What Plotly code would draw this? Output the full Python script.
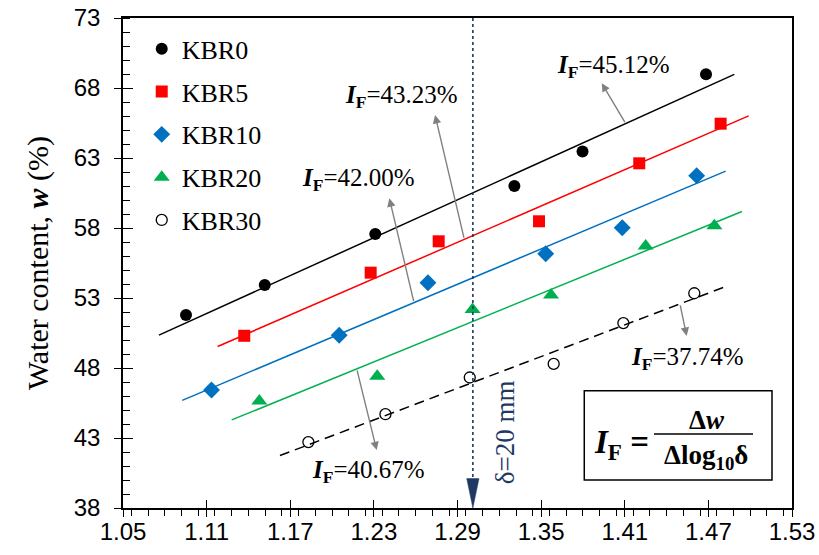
import numpy as np
import plotly.graph_objects as go

# ---- data -------------------------------------------------------------
series_names = ["KBR0", "KBR5", "KBR10", "KBR20", "KBR30"]

# x = log10(δ), y = water content w (%)
kbr0_x = [1.0952, 1.1517, 1.2310, 1.3308, 1.3797, 1.4683]
kbr0_w = [51.79, 53.93, 57.57, 61.00, 63.46, 68.98]
kbr5_x = [1.1370, 1.2277, 1.2765, 1.3485, 1.4204, 1.4788]
kbr5_w = [50.30, 54.81, 57.05, 58.48, 62.62, 65.45]
kbr10_x = [1.1135, 1.2051, 1.2688, 1.3533, 1.4082, 1.4616]
kbr10_w = [46.43, 50.34, 54.09, 56.16, 58.02, 61.74]
kbr20_x = [1.1478, 1.2324, 1.3008, 1.3571, 1.4250, 1.4743]
kbr20_w = [45.64, 47.41, 52.17, 53.21, 56.71, 58.16]
kbr30_x = [1.1830, 1.2383, 1.2988, 1.3590, 1.4090, 1.4599]
kbr30_w = [42.71, 44.70, 47.32, 48.29, 51.21, 53.34]

# linear fits: slope is the index I_F (%), plus intercept and x extent
fit_slope = [45.12, 43.23, 42.00, 40.67, 37.74]
fit_intercept = [1.81, 1.21, -0.196, -1.585, -2.13]
fit_x_start = [1.0758, 1.1179, 1.0925, 1.1280, 1.1626]
fit_x_end = [1.4886, 1.4989, 1.4824, 1.4941, 1.4807]

# I_F callouts: arrow starts on the fit line at tail_x, points to head
arrow_tail_x = [1.4107, 1.2949, 1.2588, 1.2177, 1.4496]
arrow_head_x = [1.3935, 1.2739, 1.2411, 1.2320, 1.4544]
arrow_head_w = [68.34, 66.07, 60.12, 42.14, 50.29]
label_x = [1.4016, 1.2495, 1.2193, 1.2258, 1.4547]
label_w = [69.57, 67.36, 61.43, 40.64, 48.71]

delta_mm = 20
x_ticks_range = [1.05, 1.53]
y_ticks_range = [38, 73]

# ---- styles -----------------------------------------------------------
xs = [kbr0_x, kbr5_x, kbr10_x, kbr20_x, kbr30_x]
ws = [kbr0_w, kbr5_w, kbr10_w, kbr20_w, kbr30_w]
colors = ["#000000", "#FF0000", "#0070C0", "#00B050", "#000000"]
symbols = ["circle", "square", "diamond", "triangle-up", "circle-open"]
sizes = [12, 12, 13, 14, 11]
dashes = ["solid", "solid", "solid", "solid", "10px,6px"]

SERIF = "Liberation Serif, serif"
SANS = "Liberation Sans Narrow, Liberation Sans"
NAVY = "#1F3864"
GREY = "#808080"

fig = go.Figure()

# fit lines
for i in range(5):
    lx = np.array([fit_x_start[i], fit_x_end[i]])
    ly = fit_slope[i] * lx + fit_intercept[i]
    fig.add_trace(go.Scatter(
        x=lx, y=ly, mode="lines", showlegend=False, hoverinfo="skip",
        line=dict(color=colors[i], width=1.5, dash=dashes[i]),
    ))

# measured points
for i in range(5):
    fig.add_trace(go.Scatter(
        x=xs[i], y=ws[i], mode="markers", name=series_names[i],
        legendgroup=series_names[i],
        marker=dict(symbol=symbols[i], size=sizes[i], color=colors[i],
                    line=dict(width=1.3 if i == 4 else 0, color=colors[i])),
    ))

# invisible trace so the overlay axes (inner half of major ticks) render
fig.add_trace(go.Scatter(x=[x_ticks_range[0]], y=[y_ticks_range[0]], xaxis="x2",
                         yaxis="y2", mode="markers", opacity=0,
                         showlegend=False, hoverinfo="skip"))

# I_F callouts
for i in range(5):
    tail_w = fit_slope[i] * arrow_tail_x[i] + fit_intercept[i]
    fig.add_annotation(
        x=arrow_head_x[i], y=arrow_head_w[i], ax=arrow_tail_x[i], ay=tail_w,
        xref="x", yref="y", axref="x", ayref="y", text="",
        showarrow=True, arrowhead=2, arrowsize=1.2, arrowwidth=1.4,
        arrowcolor=GREY, standoff=0, startstandoff=0,
    )
    fig.add_annotation(
        x=label_x[i], y=label_w[i], xref="x", yref="y", showarrow=False,
        xanchor="center", yanchor="middle",
        text="<b><i>I</i></b><sub><b>F</b></sub>=%.2f%%" % fit_slope[i],
        font=dict(family=SERIF, size=25, color="black"),
    )

# δ = 20 mm reference line with arrowhead
xd = float(np.log10(delta_mm))
fig.add_shape(type="line", xref="x", yref="y", x0=xd, x1=xd,
              y0=y_ticks_range[1], y1=y_ticks_range[0] + 2.0,
              line=dict(color=NAVY, width=1.6, dash="dot"))
half_w = 0.0044
fig.add_shape(type="path", xref="x", yref="y",
              path="M %f,%f L %f,%f L %f,%f Z" % (xd - half_w, y_ticks_range[0] + 2.1,
                                                   xd + half_w, y_ticks_range[0] + 2.1,
                                                   xd, y_ticks_range[0]),
              fillcolor=NAVY, line=dict(color=NAVY, width=0.5))
fig.add_annotation(x=xd, y=43.4, xref="x", yref="y", xshift=33, showarrow=False,
                   xanchor="center", yanchor="middle",
                   text="δ=%d mm" % delta_mm, textangle=-90,
                   font=dict(family=SERIF, size=27, color=NAVY))

# formula box
fig.add_shape(type="rect", xref="paper", yref="paper",
              x0=0.6895, x1=0.9701, y0=0.0571, y1=0.2394,
              line=dict(color="black", width=1.5), fillcolor="white", layer="above")
fig.add_shape(type="line", xref="paper", yref="paper",
              x0=0.7937, x1=0.9417, y0=0.1510, y1=0.1510,
              line=dict(color="black", width=1.5), layer="above")
fig.add_annotation(x=0.7444, y=0.1286, xref="paper", yref="paper", showarrow=False,
                   xanchor="center", yanchor="middle",
                   text="<b><i>I</i></b><sub><b>F</b></sub><b> =</b>",
                   font=dict(family=SERIF, size=33, color="black"))
fig.add_annotation(x=0.8729, y=0.1796, xref="paper", yref="paper", showarrow=False,
                   xanchor="center", yanchor="middle",
                   text="<b>Δ<i>w</i></b>",
                   font=dict(family=SERIF, size=27, color="black"))
fig.add_annotation(x=0.8714, y=0.1041, xref="paper", yref="paper", showarrow=False,
                   xanchor="center", yanchor="middle",
                   text="<b>Δlog<sub>10</sub>δ</b>",
                   font=dict(family=SERIF, size=27, color="black"))

tickfont = dict(family=SANS, size=24, color="black")
fig.update_layout(
    width=819, height=555,
    margin=dict(l=123, r=27, t=18, b=47, autoexpand=False),
    paper_bgcolor="white", plot_bgcolor="white",
    showlegend=True,
    legend=dict(x=0.028, y=0.985, xanchor="left", yanchor="top",
                bgcolor="rgba(0,0,0,0)", tracegroupgap=6, itemwidth=30,
                font=dict(family=SERIF, size=26, color="black")),
    xaxis=dict(range=x_ticks_range, tick0=1.05, dtick=0.06, tickformat=".2f",
               automargin=False,
               showgrid=False, zeroline=False, showline=True, linecolor="black",
               linewidth=1.5, mirror=True, ticks="outside", ticklen=7,
               tickwidth=1.3, tickcolor="black", tickfont=tickfont,
               ticklabelstandoff=-6,
               minor=dict(dtick=0.012, ticks="outside", ticklen=6,
                          tickwidth=1, tickcolor="black")),
    yaxis=dict(range=y_ticks_range, tick0=38, dtick=5, showgrid=False,
               automargin=False,
               zeroline=False, showline=True, linecolor="black", linewidth=1.5,
               mirror=True, ticks="outside", ticklen=7, tickwidth=1.3,
               tickcolor="black", tickfont=tickfont, ticklabelstandoff=9,
               title=dict(text="Water content, <b><i>w</i></b> (%)", standoff=16,
                          font=dict(family=SERIF, size=30, color="black")),
               minor=dict(dtick=1, ticks="inside", ticklen=7, tickwidth=1,
                          tickcolor="black")),
    xaxis2=dict(range=x_ticks_range, tick0=1.05, dtick=0.06, overlaying="x",
                automargin=False,
                anchor="y2", side="bottom", showgrid=False, zeroline=False,
                showline=False, ticks="inside", ticklen=8, tickwidth=1.3,
                tickcolor="black", showticklabels=False),
    yaxis2=dict(range=y_ticks_range, tick0=38, dtick=5, overlaying="y",
                automargin=False,
                anchor="x2", side="left", showgrid=False, zeroline=False,
                showline=False, ticks="inside", ticklen=10, tickwidth=1.3,
                tickcolor="black", showticklabels=False),
)

fig.write_html("out.html")
